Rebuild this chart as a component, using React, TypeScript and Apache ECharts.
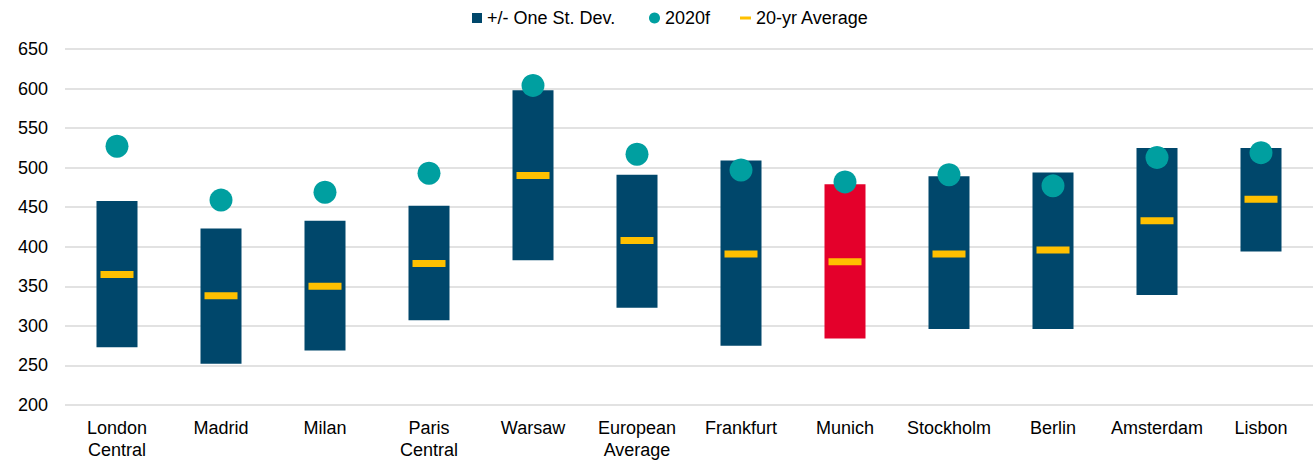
import React, { useEffect, useRef } from "react";
import * as echarts from "echarts";

const categories = [
  "London\nCentral", "Madrid", "Milan", "Paris\nCentral", "Warsaw", "European\nAverage",
  "Frankfurt", "Munich", "Stockholm", "Berlin", "Amsterdam", "Lisbon",
];
const lowValues = [273, 252, 269, 307, 383, 323, 275, 284, 296, 296, 339, 394];
const highValues = [458, 423, 433, 452, 598, 491, 509, 479, 489, 494, 525, 525];
const avgValues = [365, 338, 350, 379, 490, 408, 391, 381, 391, 396, 433, 460];
const forecastValues = [527, 459, 469, 493, 604, 517, 497, 482, 491, 477, 513, 519];
const highlightCategory = "Munich";
const yTicks = { min: 200, max: 650, interval: 50 };

const NAVY = "#00476B";
const RED = "#E4002B";
const TEAL = "#009FA0";
const GOLD = "#FFC000";
const FONT = "'Liberation Sans', Arial, sans-serif";

export default function App() {
  const ref = useRef<HTMLDivElement>(null);
  useEffect(() => {
    if (!ref.current) return;
    const chart = echarts.init(ref.current, undefined, { renderer: "svg" });
    const legendText = { color: "#000", fontSize: 18, fontFamily: FONT };
    chart.setOption({
      animation: false,
      textStyle: { fontFamily: FONT },
      legend: [
        {
          data: [{ name: "+/- One St. Dev.", icon: "rect" }],
          left: 467, top: 4, itemWidth: 10, itemHeight: 10, textStyle: legendText,
          selectedMode: false,
        },
        {
          data: [{ name: "2020f", icon: "circle" }],
          left: 644, top: 4, itemWidth: 11, itemHeight: 11, textStyle: legendText,
          selectedMode: false,
        },
        {
          data: [{ name: "20-yr Average", icon: "rect" }],
          left: 735, top: 4, itemWidth: 11, itemHeight: 3, textStyle: legendText,
          selectedMode: false,
        },
      ],
      grid: { left: 65, right: 1, top: 49, bottom: 53, containLabel: false },
      xAxis: {
        type: "category",
        data: categories,
        axisLine: { show: false },
        axisTick: { show: false },
        axisLabel: {
          color: "#000", fontSize: 18, fontFamily: FONT, lineHeight: 22, margin: 12,
          interval: 0,
        },
      },
      yAxis: {
        type: "value",
        min: yTicks.min,
        max: yTicks.max,
        interval: yTicks.interval,
        axisLine: { show: false },
        axisTick: { show: false },
        axisLabel: { color: "#000", fontSize: 18, fontFamily: FONT, margin: 17 },
        splitLine: { lineStyle: { color: "#d9d9d9", width: 1.5 } },
      },
      series: [
        {
          name: "base",
          type: "bar",
          stack: "sd",
          barWidth: 41,
          data: lowValues,
          itemStyle: { color: "transparent" },
          silent: true,
        },
        {
          name: "+/- One St. Dev.",
          type: "bar",
          stack: "sd",
          barWidth: 41,
          itemStyle: { color: NAVY },
          data: highValues.map((h, i) => ({
            value: h - lowValues[i],
            itemStyle: { color: categories[i] === highlightCategory ? RED : NAVY },
          })),
        },
        {
          name: "20-yr Average",
          type: "scatter",
          symbol: "rect",
          symbolSize: [33, 7],
          itemStyle: { color: GOLD, opacity: 1 },
          data: avgValues,
          z: 3,
        },
        {
          name: "2020f",
          type: "scatter",
          symbol: "circle",
          symbolSize: 23,
          itemStyle: { color: TEAL, opacity: 1 },
          data: forecastValues,
          z: 4,
        },
      ],
    });
    return () => chart.dispose();
  }, []);
  return <div ref={ref} style={{ width: 1314, height: 461, position: "absolute", left: 0, top: 0 }} />;
}
